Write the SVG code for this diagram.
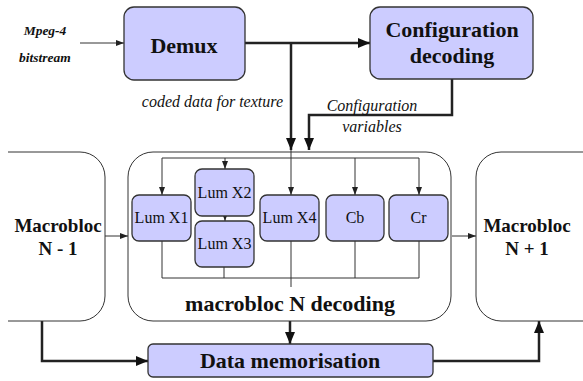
<svg xmlns="http://www.w3.org/2000/svg" width="583" height="381" viewBox="0 0 583 381">
<defs>
<style>
.box{fill:#ccccff;stroke:#333;stroke-width:1.3}
.frame{fill:none;stroke:#333;stroke-width:1}
.thick{fill:none;stroke:#222;stroke-width:2.5}
.thin{fill:none;stroke:#333;stroke-width:1}
text{font-family:"Liberation Serif","Times New Roman",Times,"DejaVu Serif",serif;fill:#111}
.big{font-weight:bold;font-size:22px;text-anchor:middle}
.mid{font-weight:bold;font-size:19px;text-anchor:middle}
.lum{font-size:16px;text-anchor:middle}
.it{font-style:italic;font-size:16px}
.bi{font-style:italic;font-weight:bold;font-size:13.5px;text-anchor:middle}
</style>
<marker id="ah" markerUnits="userSpaceOnUse" markerWidth="12" markerHeight="12" viewBox="0 0 12 12" refX="12" refY="6" orient="auto">
<path d="M0,1 L12,6 L0,11 Z" fill="#111"/>
</marker>
<marker id="as" markerUnits="userSpaceOnUse" markerWidth="8" markerHeight="8" viewBox="0 0 8 8" refX="8" refY="4" orient="auto">
<path d="M0,1 L8,4 L0,7 Z" fill="#222"/>
</marker>
</defs>
<g id="connectors">
<path class="thin" d="M80,43 H124" marker-end="url(#as)"/>
<path class="thick" d="M245,43 H370" marker-end="url(#ah)"/>
<path class="thick" d="M291,43 V150" marker-end="url(#ah)"/>
<path class="thick" d="M452,79 V115 H309 V150" marker-end="url(#ah)"/>
<path class="thin" d="M291,150 V195" marker-end="url(#as)"/>
<path class="thin" d="M419,158 H162 V195" marker-end="url(#as)"/>
<path class="thin" d="M225,158 V169" marker-end="url(#as)"/>
<path class="thin" d="M355,158 V195" marker-end="url(#as)"/>
<path class="thin" d="M419,158 V195" marker-end="url(#as)"/>
<path class="thin" d="M225,216 V221" marker-end="url(#as)"/>
<path class="thin" d="M162,241 V278 H419 V241"/>
<path class="thin" d="M224,267 V278"/>
<path class="thin" d="M355,241 V278"/>
<path class="thin" d="M291,241 V287"/>
<path class="thin" d="M105,236 H128" marker-end="url(#as)"/>
<path class="thin" d="M452,236 H476" marker-end="url(#as)"/>
<path class="thick" d="M42,321 V361 H148" marker-end="url(#ah)"/>
<path class="thick" d="M290,321 V344" marker-end="url(#ah)"/>
<path class="thick" d="M433,361 H539 V321" marker-end="url(#ah)"/>
</g>
<g id="input-label">
<text class="bi" x="45" y="35">Mpeg-4</text>
<text class="bi" x="45" y="62">bitstream</text>
</g>
<g id="demux">
<rect class="box" x="124" y="7" width="121" height="73" rx="10"/>
<text class="big" x="184" y="53">Demux</text>
</g>
<g id="config">
<rect class="box" x="370" y="7" width="163" height="72" rx="10"/>
<text class="big" x="452" y="37">Configuration</text>
<text class="big" x="452" y="63">decoding</text>
</g>
<g id="edge-labels">
<text class="it" x="283" y="107" text-anchor="end">coded data for texture</text>
<text class="it" x="372" y="111" text-anchor="middle">Configuration</text>
<text class="it" x="372" y="132" text-anchor="middle">variables</text>
</g>
<g id="mb-prev">
<path class="frame" d="M8,152 H80 A25,25 0 0 1 105,177 V296 A25,25 0 0 1 80,321 H8"/>
<text class="mid" x="58" y="232">Macrobloc</text>
<text class="mid" x="58" y="255">N - 1</text>
</g>
<g id="mb-current">
<rect class="frame" x="128" y="152" width="323" height="169" rx="25"/>
<text class="big" x="290" y="311">macrobloc N decoding</text>
</g>
<g id="mb-next">
<path class="frame" d="M583,152 H501 A25,25 0 0 0 476,177 V296 A25,25 0 0 0 501,321 H583"/>
<text class="mid" x="527" y="232">Macrobloc</text>
<text class="mid" x="527" y="255">N + 1</text>
</g>
<g id="lumx1">
<rect class="box" x="132" y="195" width="59" height="46" rx="7"/>
<text class="lum" x="161.5" y="223">Lum X1</text>
</g>
<g id="lumx2">
<rect class="box" x="195" y="169" width="59" height="47" rx="7"/>
<text class="lum" x="224.5" y="198">Lum X2</text>
</g>
<g id="lumx3">
<rect class="box" x="195" y="221" width="59" height="46" rx="7"/>
<text class="lum" x="224.5" y="249">Lum X3</text>
</g>
<g id="lumx4">
<rect class="box" x="260" y="195" width="59" height="46" rx="7"/>
<text class="lum" x="289.5" y="223">Lum X4</text>
</g>
<g id="cb">
<rect class="box" x="326" y="195" width="58" height="46" rx="7"/>
<text class="lum" x="355" y="223">Cb</text>
</g>
<g id="cr">
<rect class="box" x="389" y="195" width="59" height="46" rx="7"/>
<text class="lum" x="418.5" y="223">Cr</text>
</g>
<g id="data-mem">
<rect class="box" x="148" y="344" width="285" height="33" rx="5"/>
<text class="big" x="290" y="368">Data memorisation</text>
</g>
</svg>
